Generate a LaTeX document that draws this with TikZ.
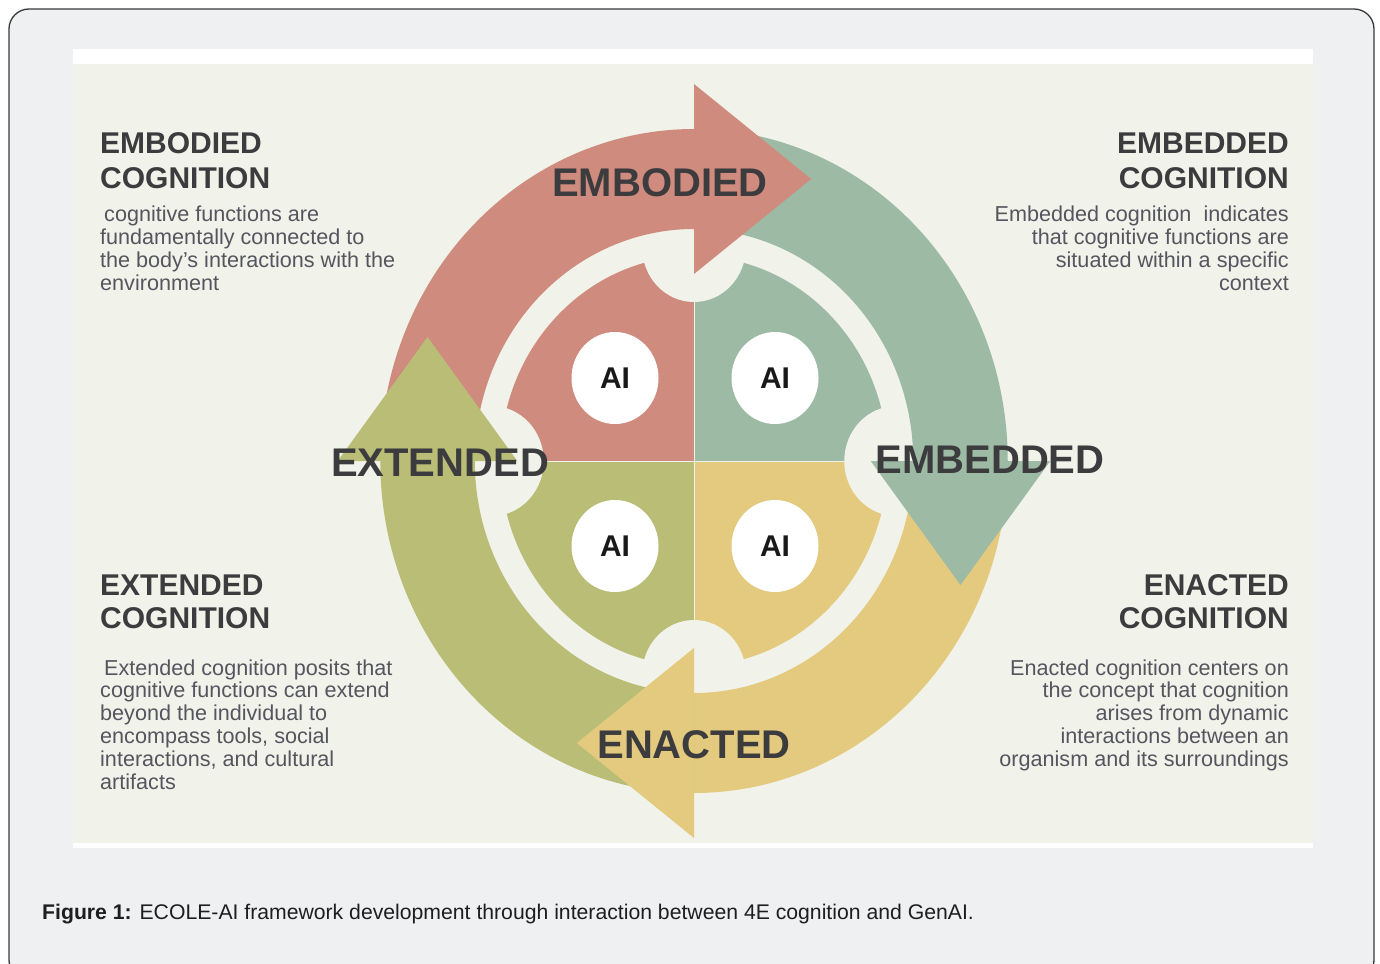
\documentclass[tikz,border=0pt]{standalone}
\usepackage{fontspec}
\setmainfont{Liberation Sans}
\usetikzlibrary{shapes.geometric}

% palette
\definecolor{embodiedc}{HTML}{CF8B7E}
\definecolor{embeddedc}{HTML}{9DBAA4}
\definecolor{enactedc}{HTML}{E3CA7E}
\definecolor{extendedc}{HTML}{B9BD76}
\definecolor{paperc}{HTML}{F1F2EA}
\definecolor{framebg}{HTML}{EFF0F2}
\definecolor{framec}{HTML}{3A3A3A}
\definecolor{labelc}{HTML}{3C3C3E}
\definecolor{bodyc}{HTML}{55555F}
\definecolor{capc}{HTML}{1E1E1E}

% stacked lines: first baseline is the box baseline
\newcommand\lblock[2]{\vtop{\baselineskip=#1\halign{##\hfil\cr#2\crcr}}}
\newcommand\rblock[2]{\vtop{\baselineskip=#1\halign{\hfil##\cr#2\crcr}}}

\begin{document}
\begin{tikzpicture}[x=1pt,y=-1pt,
  ringlabel/.style={font=\fontsize{40}{48}\selectfont\bfseries, text=labelc, inner sep=0, anchor=base},
  aidisk/.style={ellipse, fill=white, minimum width=87, minimum height=92, inner sep=0,
                 font=\fontsize{30}{36}\selectfont\bfseries, text=black!90},
  headtext/.style={font=\fontsize{30}{36}\selectfont\bfseries, text=labelc, inner sep=0},
  bodytext/.style={font=\fontsize{21.6}{23}\selectfont, text=bodyc, inner sep=0}]

\useasboundingbox (0,0) rectangle (1380,963);
\clip (0,0) rectangle (1380,963);

% page frame and figure panel
\fill[white] (0,0) rectangle (1380,963);
\draw[framec, line width=1.3, fill=framebg, rounded corners=20] (9,9) rectangle (1374,980);
\fill[white] (73,49) rectangle (1313,848);
\fill[paperc] (73,64) rectangle (1313,843);

% the cycle, drawn about its centre
\begin{scope}[shift={(694,461)}, yscale=-1, xscale=0.945]
  % inner disc in four quarters
  \fill[embodiedc] (0,0) -- (-205,0) arc[start angle=180, end angle=90, radius=205] -- cycle;
  \fill[embeddedc] (0,0) -- (0,205) arc[start angle=90, end angle=0, radius=205] -- cycle;
  \fill[enactedc]  (0,0) -- (205,0) arc[start angle=0, end angle=-90, radius=205] -- cycle;
  \fill[extendedc] (0,0) -- (0,-205) arc[start angle=-90, end angle=-180, radius=205] -- cycle;
  \draw[paperc, line width=1] (0,-205) -- (0,205) (-205,0) -- (205,0);
  % round notches at the four joints
  \foreach \p in {(0,214),(214,0),(0,-214),(-214,0)}
    \fill[paperc] \p circle[radius=55];

  % ring bands
  \fill[embodiedc] (-332,0) arc[start angle=180, end angle=89, radius=332]
      -- (89:232) arc[start angle=89, end angle=180, radius=232] -- cycle;
  \fill[embeddedc] (0,332) arc[start angle=90, end angle=-1, radius=332]
      -- (-1:232) arc[start angle=-1, end angle=90, radius=232] -- cycle;
  \fill[enactedc] (332,0) arc[start angle=0, end angle=-91, radius=332]
      -- (-91:232) arc[start angle=-91, end angle=0, radius=232] -- cycle;
  \fill[extendedc] (0,-332) arc[start angle=-90, end angle=-181, radius=332]
      -- (-181:232) arc[start angle=-181, end angle=-90, radius=232] -- cycle;

  % arrow heads
  \fill[embodiedc] (0,377) -- (124,282) -- (0,187) -- cycle;
  \fill[embeddedc] (377,0) -- (282,-124) -- (187,0) -- cycle;
  \fill[enactedc] (0,-377) -- (-124,-282) -- (0,-187) -- cycle;
  \fill[extendedc] (-377,0) -- (-282,124) -- (-187,0) -- cycle;
\end{scope}

% AI discs
\node[aidisk] (ai1) at (615,378) {AI};
\node[aidisk] (ai2) at (775,378) {AI};
\node[aidisk] (ai3) at (615,546) {AI};
\node[aidisk] (ai4) at (775,546) {AI};

% ring labels
\node[ringlabel] (lbody) at (660,196) {EMBODIED};
\node[ringlabel] (lbed) at (990,473) {EMBEDDED};
\node[ringlabel] (lext) at (440,476) {EXTENDED};
\node[ringlabel] (lact) at (694,758) {ENACTED};

% corner descriptions
\node[headtext, anchor=base west] (h1) at (100,153) {\lblock{35.5pt}{EMBODIED\cr COGNITION}};
\node[bodytext, anchor=base west] (b1) at (100,221) {\lblock{23pt}{%
  \kern4pt cognitive functions are\cr
  fundamentally connected to\cr
  the body’s interactions with the\cr
  environment}};

\node[headtext, anchor=base east] (h2) at (1289,153) {\rblock{35.5pt}{EMBEDDED\cr COGNITION}};
\node[bodytext, anchor=base east] (b2) at (1289,221) {\rblock{23pt}{%
  Embedded cognition\ \ indicates\cr
  that cognitive functions are\cr
  situated within a specific\cr
  context}};

\node[headtext, anchor=base west] (h3) at (100,595) {\lblock{33pt}{EXTENDED\cr COGNITION}};
\node[bodytext, anchor=base west] (b3) at (100,675) {\lblock{22.8pt}{%
  \kern4pt Extended cognition posits that\cr
  cognitive functions can extend\cr
  beyond the individual to\cr
  encompass tools, social\cr
  interactions, and cultural\cr
  artifacts}};

\node[headtext, anchor=base east] (h4) at (1289,595) {\rblock{33pt}{ENACTED\cr COGNITION}};
\node[bodytext, anchor=base east] (b4) at (1289,675) {\rblock{22.8pt}{%
  Enacted cognition centers on\cr
  the concept that cognition\cr
  arises from dynamic\cr
  interactions between an\cr
  organism and its surroundings}};

% caption
\node[anchor=base west, inner sep=0, font=\fontsize{21.2}{25}\selectfont, text=capc] (cap) at (42,919)
  {\textbf{Figure 1:} ECOLE-AI framework development through interaction between 4E cognition and GenAI.};
\end{tikzpicture}
\end{document}
